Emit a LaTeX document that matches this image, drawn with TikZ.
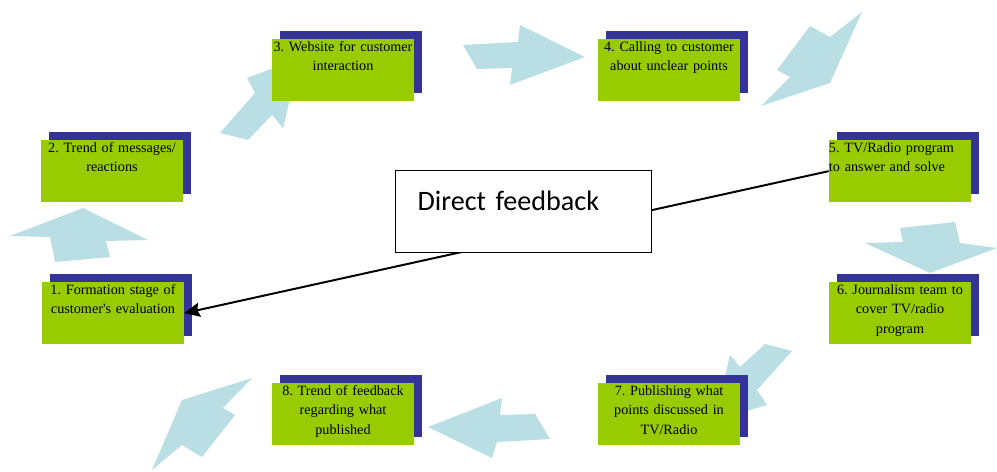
\documentclass[tikz,border=0pt]{standalone}
\usepackage{fontspec}
\setmainfont{Liberation Serif}
\newfontfamily\dfFont{Carlito}
\usetikzlibrary{arrows.meta,shadows}
\definecolor{stageGreen}{RGB}{153,204,0}
\definecolor{stageNavy}{RGB}{51,51,153}
\definecolor{flowBlue}{RGB}{185,223,228}
\tikzset{
  stagebox/.style={rectangle,fill=stageGreen,anchor=north,inner xsep=0pt,inner ysep=0pt,
    text width=3.55cm,align=center,text height=8.5pt,text depth=35.4pt,
    font=\frenchspacing\fontsize{10.1}{13.8}\selectfont,
    general shadow={fill=stageNavy,shadow xshift=0.2cm,shadow yshift=0.2cm}},
  flowarrow/.style={fill=flowBlue},
  dfbox/.style={draw=black,line width=0.9pt,fill=white,anchor=north west,
    text width=5.3cm,inner xsep=0.55cm,inner ysep=0pt,align=left,
    text height=28.3pt,text depth=29.8pt,font=\dfFont\fontsize{20}{22}\selectfont},
  feedline/.style={line width=1.4pt,-{Stealth[length=11pt,width=10pt,inset=1.5pt]}}
}

\begin{document}
\begin{tikzpicture}[x=0.025cm,y=-0.025cm]
\useasboundingbox (0,0) rectangle (997,472);
% flow arrows between the stages
\fill[flowarrow] (83,208) -- (148,240) -- (106,241) -- (110,257) -- (55,262) -- (50,237) -- (10,236) -- cycle;
\fill[flowarrow] (247,78) -- (300,58) -- (283,128) -- (272,115) -- (248,140) -- (220,133) -- (255,93) -- cycle;
\fill[flowarrow] (463,45) -- (518,42) -- (520,25) -- (585,57) -- (510,85) -- (512,68) -- (477,69) -- cycle;
\fill[flowarrow] (862,12) -- (830,37) -- (810,26) -- (777,70) -- (790,77) -- (761,106) -- (830,83) -- cycle;
\fill[flowarrow] (900,228) -- (955,222) -- (960,243) -- (997,248) -- (930,273) -- (865,243) -- (903,242) -- cycle;
\fill[flowarrow] (765,344) -- (792,351) -- (757,390) -- (767,405) -- (715,420) -- (730,355) -- (740,367) -- cycle;
\fill[flowarrow] (428,427) -- (502,398) -- (500,415) -- (535,414) -- (550,439) -- (497,442) -- (492,458) -- cycle;
\fill[flowarrow] (252,378) -- (182,400) -- (152,470) -- (182,445) -- (202,457) -- (235,415) -- (223,408) -- cycle;
% stages
\node[stagebox] (g1) at (113,282) {1. Formation stage of\\customer\textquotesingle s evaluation};
\node[stagebox] (g2) at (112,140) {2. Trend of messages/\\reactions};
\node[stagebox] (g3) at (343,39) {3. Website for customer\\interaction};
\node[stagebox] (g4) at (669,39) {4. Calling to customer\\about unclear points};
\node[stagebox,align=left] (g5) at (900,140) {5. TV/Radio program\\to answer and solve};
\node[stagebox] (g6) at (900,282) {6. Journalism team to\\cover TV/radio\\program};
\node[stagebox] (g7) at (669,383) {7. Publishing what\\points discussed in\\TV/Radio};
\node[stagebox] (g8) at (343,383) {8. Trend of feedback\\regarding what\\published};
% direct feedback
\draw[feedline] (g5.west) -- (g1.east);
\node[dfbox] (df) at (395,170) {Direct feedback};
\end{tikzpicture}
\end{document}
